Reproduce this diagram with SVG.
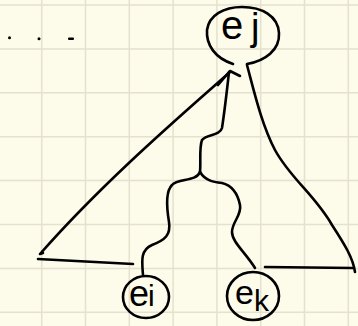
<svg xmlns="http://www.w3.org/2000/svg" width="358" height="326" viewBox="0 0 358 326">
<style>
.grid line{stroke:#e4e1cf;stroke-width:1.5}
.ink{fill:none;stroke:#000;stroke-width:2.6;stroke-linecap:round;stroke-linejoin:round}
.lbl{font-family:"Liberation Sans",Arial,sans-serif;fill:#000}
</style>
<rect width="358" height="326" fill="#fdfbea"/>
<g class="grid">
<line x1="41.7" y1="0" x2="41.7" y2="326"/>
<line x1="85.5" y1="0" x2="85.5" y2="326"/>
<line x1="129.3" y1="0" x2="129.3" y2="326"/>
<line x1="173.1" y1="0" x2="173.1" y2="326"/>
<line x1="216.9" y1="0" x2="216.9" y2="326"/>
<line x1="260.7" y1="0" x2="260.7" y2="326"/>
<line x1="304.5" y1="0" x2="304.5" y2="326"/>
<line x1="348.3" y1="0" x2="348.3" y2="326"/>
<line x1="0" y1="5" x2="358" y2="5"/>
<line x1="0" y1="48.9" x2="358" y2="48.9"/>
<line x1="0" y1="92.8" x2="358" y2="92.8"/>
<line x1="0" y1="136.7" x2="358" y2="136.7"/>
<line x1="0" y1="180.6" x2="358" y2="180.6"/>
<line x1="0" y1="224.5" x2="358" y2="224.5"/>
<line x1="0" y1="268.4" x2="358" y2="268.4"/>
<line x1="0" y1="312.3" x2="358" y2="312.3"/>
</g>
<g id="dots" fill="#000">
<circle cx="9.5" cy="37.8" r="1.5"/>
<circle cx="39" cy="38.7" r="1.5"/>
<rect x="68" y="37.5" width="6" height="2.4" rx="1"/>
</g>
<g id="connectors" class="ink">
<path d="M230,72 C185,112 105,180 40,254 l3,-1"/>
<path d="M38,259 L133,264"/>
<path d="M218,85 L230,71 L240,76"/>
<path d="M229,72 C227,90 224,115 222,128 C220,136 206,134 202,140 C199,148 201,162 200,172"/>
<path d="M200,172 C196,182 178,178 172,185 C165,192 167,210 169,222 C171,235 165,240 152,245 C140,250 142,262 143,275"/>
<path d="M200,172 C205,180 212,182 222,183 C234,186 238,195 240,205 C242,215 232,222 232,232 C232,242 245,252 255,268"/>
<path d="M247,65 C255,95 262,125 275,150 C290,178 315,195 332,225 C345,245 353,258 355,272"/>
<path d="M265,267 L353,268"/>
</g>
<g id="ej">
<path class="ink" d="M233,64 C215,58 206,45 207,30 C209,15 224,7 242,7 C262,7 278,16 279,33 C280,50 265,61 247,64"/>
<text class="lbl" x="221" y="39" font-size="40">e</text>
<text class="lbl" x="251" y="40" font-size="38">j</text>
</g>
<g id="ei">
<ellipse class="ink" cx="146" cy="297" rx="23" ry="21"/>
<text class="lbl" x="129" y="306" font-size="36">e</text>
<text class="lbl" x="148" y="306" font-size="30">i</text>
</g>
<g id="ek">
<ellipse class="ink" cx="253" cy="296" rx="26" ry="24"/>
<text class="lbl" x="235" y="304" font-size="34">e</text>
<text class="lbl" x="254" y="311" font-size="30">k</text>
</g>
</svg>
